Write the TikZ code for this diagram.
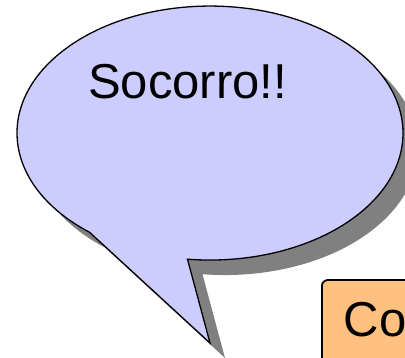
\documentclass[tikz,border=0pt]{standalone}
\usepackage{fontspec}
\setmainfont{Liberation Sans}
\usetikzlibrary{shadows}
\definecolor{bubblefill}{RGB}{204,204,255}
\definecolor{boxfill}{RGB}{255,192,128}
\definecolor{shadowgray}{RGB}{128,128,128}
\begin{document}
\begin{tikzpicture}[x=1pt,y=1pt,
  bubble/.style={fill=bubblefill, draw=black, line width=1.3pt, line join=miter},
  bubbleshadow/.style={fill=shadowgray, draw=none},
  bigtext/.style={font=\fontsize{49}{58}\selectfont},
  cbox/.style={fill=boxfill, draw=black, line width=1.8pt, rounded corners=6pt,
    text height=36pt, text depth=40pt, inner ysep=21pt,
    text width=80pt, align=left, inner xsep=22pt,
    drop shadow={shadow xshift=15pt, shadow yshift=-15pt, fill=shadowgray, opacity=1},
    font=\fontsize{49}{58}\selectfont}]
\useasboundingbox (0,0) rectangle (405,-358);
\clip (0,0) rectangle (405,-358);
% callout shadow
\fill[bubbleshadow, shift={(15,-15)}] (89.6,-232.3)
  arc[start angle=231.4, end angle=-96.7, x radius=193, y radius=127]
  -- (210,-343) -- cycle;
% callout
\draw[bubble] (89.6,-232.3)
  arc[start angle=231.4, end angle=-96.7, x radius=193, y radius=127]
  -- (210,-343) -- cycle;
\node[bigtext, anchor=base west, inner sep=0pt] (help) at (88,-99) {Socorro!!};
% box
\node[cbox, anchor=base west] (co) at (321,-337) {Co};
\end{tikzpicture}
\end{document}
